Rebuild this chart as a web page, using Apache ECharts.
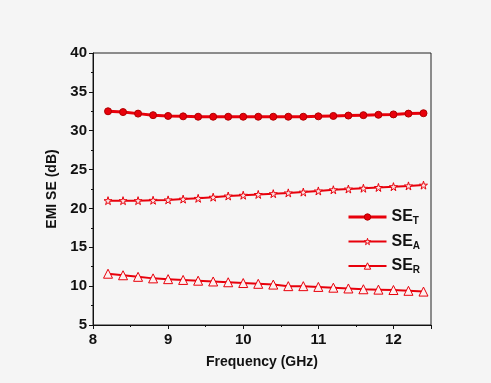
<!DOCTYPE html>
<html><head><meta charset="utf-8">
<script src="https://cdn.jsdelivr.net/npm/echarts@6/dist/echarts.min.js"></script>
<style>html,body{margin:0;padding:0;background:#f5f5f5;}#c{width:491px;height:383px;}</style>
</head><body><div id="c"></div>
<script>
const freq = [8.2,8.4,8.6,8.8,9.0,9.2,9.4,9.6,9.8,10.0,10.2,10.4,10.6,10.8,11.0,11.2,11.4,11.6,11.8,12.0,12.2,12.4];
const seT = [32.5,32.4,32.2,32.0,31.9,31.85,31.8,31.8,31.8,31.8,31.8,31.8,31.8,31.8,31.85,31.9,31.95,32.0,32.05,32.1,32.2,32.25];
const seA = [21.0,21.0,21.0,21.05,21.1,21.2,21.3,21.45,21.6,21.7,21.8,21.9,22.0,22.1,22.25,22.4,22.5,22.6,22.7,22.8,22.9,23.0];
const seR = [11.6,11.4,11.2,11.0,10.9,10.8,10.7,10.6,10.5,10.4,10.3,10.2,10.0,10.0,9.9,9.8,9.7,9.6,9.55,9.5,9.4,9.3];
const seriesNames = ['T','A','R'];
const xTicks = [8,9,10,11,12];
const yTicks = [5,10,15,20,25,30,35,40];

const red = '#e8000b';
const star = 'path://M50,0 L61,35 L98,35 L68,57 L79,91 L50,70 L21,91 L32,57 L2,35 L39,35 Z';
const pair = a => freq.map((f,i)=>[f,a[i]]);
const font = 'Liberation Sans, Arial, sans-serif';
const styles = {
  T: {symbol: 'circle', size: 7, lw: 3, item: {color: red, borderColor: '#b00000', borderWidth: 1}},
  A: {symbol: star, size: 8, lw: 2, item: {color: '#fbe3e3', borderColor: red, borderWidth: 1}},
  R: {symbol: 'triangle', size: 9, lw: 2, item: {color: '#fdf0f0', borderColor: red, borderWidth: 1}}
};
const dataMap = {T: seT, A: seA, R: seR};

const chart = echarts.init(document.getElementById('c'));
chart.setOption({
  backgroundColor: '#f5f5f5',
  animation: false,
  grid: {left: 93, right: 60, top: 53, bottom: 58, show: true, borderColor: '#222', borderWidth: 1, backgroundColor: 'transparent'},
  xAxis: {
    type: 'value', min: 8, max: 12.5, interval: 1,
    name: 'Frequency (GHz)', nameLocation: 'middle', nameGap: 30,
    nameTextStyle: {fontFamily: font, fontWeight: 'bold', fontSize: 14, color: '#111'},
    axisLine: {show: true, lineStyle: {color: '#111', width: 1}},
    axisTick: {show: true, inside: false, length: 4, lineStyle: {color: '#111'}},
    minorTick: {show: true, splitNumber: 2, length: 2, lineStyle: {color: '#111'}},
    splitLine: {show: false},
    axisLabel: {fontFamily: font, fontWeight: 'bold', fontSize: 15, color: '#111', margin: 7,
      formatter: v => xTicks.includes(v) ? String(v) : ''}
  },
  yAxis: {
    type: 'value', min: 5, max: 40, interval: 5,
    name: 'EMI SE (dB)', nameLocation: 'middle', nameGap: 30, nameRotate: 90,
    nameTextStyle: {fontFamily: font, fontWeight: 'bold', fontSize: 14, color: '#111'},
    axisLine: {show: true, lineStyle: {color: '#111', width: 1}},
    axisTick: {show: true, inside: false, length: 4, lineStyle: {color: '#111'}},
    minorTick: {show: true, splitNumber: 2, length: 2, lineStyle: {color: '#111'}},
    splitLine: {show: false},
    axisLabel: {fontFamily: font, fontWeight: 'bold', fontSize: 15, color: '#111', margin: 6,
      formatter: v => yTicks.includes(v) ? String(v) : ''}
  },
  legend: {
    orient: 'vertical', left: 342, top: 204, itemWidth: 38, itemHeight: 8, itemGap: 7,
    data: seriesNames.map(n => ({name: 'SE' + n, itemStyle: styles[n].item, lineStyle: {color: red, width: styles[n].lw}})),
    formatter: name => '{b|SE}{s|' + name.slice(2) + '}',
    textStyle: {rich: {
      b: {fontFamily: font, fontWeight: 'bold', fontSize: 16, color: '#111'},
      s: {fontFamily: font, fontWeight: 'bold', fontSize: 10, color: '#111', verticalAlign: 'bottom', padding: [9,0,0,0]}
    }}
  },
  series: seriesNames.map(n => ({
    name: 'SE' + n, type: 'line', data: pair(dataMap[n]), symbol: styles[n].symbol, symbolSize: styles[n].size,
    lineStyle: {color: red, width: styles[n].lw}, itemStyle: styles[n].item
  }))
});
</script></body></html>
